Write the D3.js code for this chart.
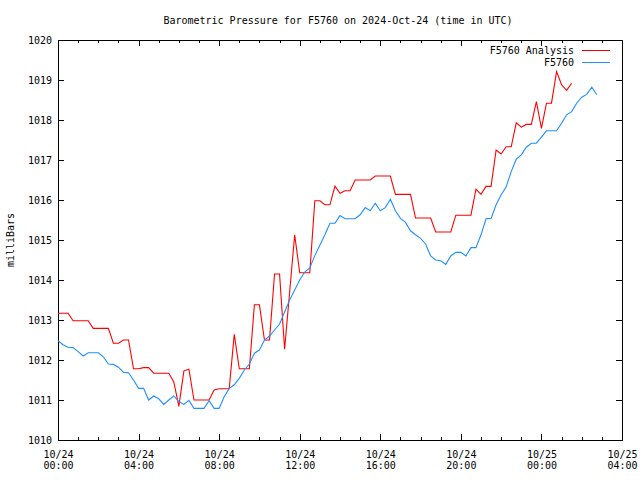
<!DOCTYPE html>
<html><head><meta charset="utf-8">
<script src="https://cdn.jsdelivr.net/npm/d3@7"></script>
<style>
body{margin:0;background:#fff;}
text{font-family:"DejaVu Sans Mono","Liberation Mono",monospace;font-size:10px;fill:#000;}
</style></head>
<body><svg id="c" width="640" height="480"></svg>
<script>
// ---- data ----
const titleText = "Barometric Pressure for F5760 on 2024-Oct-24 (time in UTC)";
const yLabel = "milliBars";
const seriesNames = ["F5760 Analysis", "F5760"];
const startTime = "2024-10-24T00:00:00Z";
const endTime = "2024-10-25T04:00:00Z";
const stepMinutes = 15;
const yTicks = [1010,1011,1012,1013,1014,1015,1016,1017,1018,1019,1020];
// Analysis (red), one value every 15 minutes from 10/24 00:00
const analysisValues = [
 1013.17,1013.17,1013.17,1012.98,1012.98,1012.98,1012.98,1012.79,1012.79,1012.79,
 1012.79,1012.42,1012.42,1012.50,1012.50,1011.78,1011.78,1011.81,1011.81,1011.67,
 1011.67,1011.67,1011.67,1011.45,1010.84,1011.73,1011.77,1011.00,1011.00,1011.00,
 1011.00,1011.25,1011.28,1011.28,1011.28,1012.64,1011.78,1011.78,1011.78,1013.38,
 1013.38,1012.50,1012.50,1014.15,1014.15,1012.27,1013.70,1015.13,1014.18,1014.18,
 1014.18,1015.98,1015.98,1015.88,1015.88,1016.35,1016.17,1016.23,1016.23,1016.50,
 1016.50,1016.50,1016.50,1016.60,1016.60,1016.60,1016.60,1016.14,1016.14,1016.14,
 1016.14,1015.55,1015.55,1015.55,1015.55,1015.20,1015.20,1015.20,1015.20,1015.62,
 1015.62,1015.62,1015.62,1016.27,1016.14,1016.34,1016.34,1017.25,1017.15,1017.33,
 1017.33,1017.93,1017.82,1017.89,1017.89,1018.46,1017.79,1018.42,1018.42,1019.21,
 1018.88,1018.74,1018.92
];
// Station (blue), one value every 15 minutes from 10/24 00:00
const stationValues = [
 1012.48,1012.38,1012.32,1012.31,1012.21,1012.10,1012.18,1012.18,1012.18,1012.08,
 1011.90,1011.89,1011.82,1011.69,1011.68,1011.50,1011.29,1011.29,1011.00,1011.10,
 1011.03,1010.89,1011.00,1011.10,1010.96,1010.89,1010.99,1010.79,1010.79,1010.79,
 1010.98,1010.79,1010.79,1011.08,1011.29,1011.38,1011.54,1011.75,1011.90,1012.17,
 1012.25,1012.50,1012.60,1012.75,1012.90,1013.20,1013.50,1013.75,1014.00,1014.20,
 1014.30,1014.61,1014.87,1015.13,1015.42,1015.42,1015.61,1015.53,1015.53,1015.53,
 1015.63,1015.81,1015.73,1015.92,1015.73,1015.81,1016.02,1015.73,1015.54,1015.44,
 1015.23,1015.13,1015.04,1014.90,1014.60,1014.50,1014.48,1014.39,1014.60,1014.69,
 1014.69,1014.60,1014.81,1014.81,1015.13,1015.53,1015.54,1015.88,1016.13,1016.33,
 1016.71,1017.02,1017.13,1017.32,1017.42,1017.42,1017.57,1017.73,1017.73,1017.73,
 1017.92,1018.13,1018.21,1018.42,1018.57,1018.64,1018.82,1018.63
];
const colors = ["#ff0000", "#1e90ff"];

// ---- chart ----
const svg = d3.select("#c");
const L = 58, R = 622, T = 40, B = 440;
const t0 = new Date(startTime), t1 = new Date(endTime);
const x = d3.scaleUtc().domain([t0, t1]).range([L, R]);
const y = d3.scaleLinear().domain([1010, 1020]).range([B, T]);
const toPts = vals => vals.map((v, i) => ({t: new Date(t0.getTime() + i * stepMinutes * 60000), v}));
const series = [toPts(analysisValues), toPts(stationValues)];

const major = d3.utcHour.every(4), minor = d3.utcHour.every(1);
const fmtD = d3.utcFormat("%m/%d"), fmtT = d3.utcFormat("%H:%M");

function styleAxis(g){ g.select(".domain").remove(); g.selectAll("line").attr("stroke","#000").attr("shape-rendering","crispEdges"); }

// minor ticks bottom/top
svg.append("g").attr("transform",`translate(0,${B})`).call(d3.axisBottom(x).ticks(minor).tickSize(-3).tickFormat("")).call(styleAxis);
svg.append("g").attr("transform",`translate(0,${T})`).call(d3.axisTop(x).ticks(minor).tickSize(-3).tickFormat("")).call(styleAxis);
// major bottom
const xb = svg.append("g").attr("transform",`translate(0,${B})`)
  .call(d3.axisBottom(x).ticks(major).tickSize(-6).tickPadding(0).tickFormat(""))
  .call(styleAxis);
xb.selectAll(".tick").each(function(d){
  const g = d3.select(this);
  g.append("text").attr("y",18).attr("text-anchor","middle").text(fmtD(d));
  g.append("text").attr("y",29).attr("text-anchor","middle").text(fmtT(d));
});
svg.append("g").attr("transform",`translate(0,${T})`).call(d3.axisTop(x).ticks(major).tickSize(-6).tickFormat("")).call(styleAxis);
// y axes
const yl = svg.append("g").attr("transform",`translate(${L},0)`)
  .call(d3.axisLeft(y).tickValues(yTicks).tickSize(-6).tickPadding(6).tickFormat(d3.format("d")))
  .call(styleAxis);
yl.selectAll("text").attr("dy","0.32em").style("font-size","10px").attr("fill","#000");
svg.append("g").attr("transform",`translate(${R},0)`)
  .call(d3.axisRight(y).tickValues(yTicks).tickSize(-6).tickFormat("")).call(styleAxis);

// frame
svg.append("rect").attr("x",L).attr("y",T).attr("width",R-L).attr("height",B-T)
  .attr("fill","none").attr("stroke","#000").attr("shape-rendering","crispEdges");

// lines
const line = d3.line().x(d => x(d.t)).y(d => y(d.v));
series.forEach((s, i) => {
  svg.append("path").datum(s).attr("d", line).attr("fill","none")
    .attr("stroke", colors[i]).attr("stroke-width", 1.1);
});

// legend
seriesNames.forEach((n, i) => {
  const yy = 50 + i * 12.7;
  svg.append("text").attr("x",574).attr("y",yy).attr("dy","0.35em").attr("text-anchor","end").text(n);
  svg.append("line").attr("x1",582).attr("x2",610).attr("y1",yy).attr("y2",yy)
    .attr("stroke",colors[i]).attr("shape-rendering","crispEdges");
});

// title & y label
svg.append("text").attr("x",338).attr("y",24).attr("text-anchor","middle").text(titleText);
svg.append("text").attr("transform","translate(14,240) rotate(-90)").attr("text-anchor","middle").text(yLabel);
</script></body></html>
